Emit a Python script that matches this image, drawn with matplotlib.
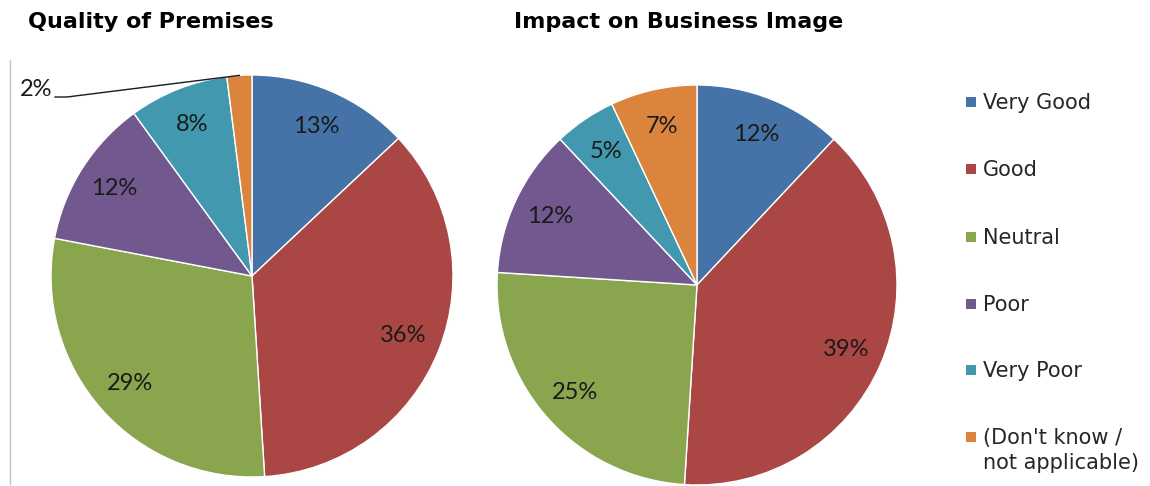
import numpy as np
import matplotlib
matplotlib.use("Agg")
import matplotlib.pyplot as plt

categories = ["Very Good", "Good", "Neutral", "Poor", "Very Poor",
              "(Don't know /\nnot applicable)"]
premises_values = [13, 36, 29, 12, 8, 2]
image_values = [12, 39, 25, 12, 5, 7]
colors = ["#4572A7", "#AA4643", "#89A54E", "#71588F", "#4198AF", "#DB843D"]

W, H = 1150, 486
fig = plt.figure(figsize=(W / 100, H / 100), dpi=100)
fig.patch.set_facecolor("white")


def pie_axes(cx, cy, r):
    """Axes in pixel terms: pie centred at (cx, cy) from the top-left, radius r."""
    ax = fig.add_axes([(cx - r) / W, (H - cy - r) / H, 2 * r / W, 2 * r / H])
    ax.set_xlim(-1, 1)
    ax.set_ylim(-1, 1)
    ax.set_aspect("equal")
    ax.axis("off")
    return ax


label_font = dict(family="Lato", fontsize=17, color="#1a1a1a")


def draw_pie(ax, values, outside=()):
    wedges, _ = ax.pie(values, colors=colors, startangle=90, counterclock=False,
                       radius=1.0, center=(0, 0), frame=False,
                       wedgeprops=dict(edgecolor="white", linewidth=1.0))
    ax.set_xlim(-1, 1)
    ax.set_ylim(-1, 1)
    for i, (w, v) in enumerate(zip(wedges, values)):
        mid = np.deg2rad((w.theta1 + w.theta2) / 2)
        if i in outside:
            continue
        ax.text(0.81 * np.cos(mid), 0.81 * np.sin(mid), f"{v}%",
                ha="center", va="center", **label_font)
    return wedges


ax1 = pie_axes(252, 276, 201)
w1 = draw_pie(ax1, premises_values, outside=(5,))
ax2 = pie_axes(697, 285, 200)
draw_pie(ax2, image_values)

# Leader line and label for the small slice on the left pie
w = w1[5]
mid = np.deg2rad((w.theta1 + w.theta2) / 2)
ex, ey = np.cos(mid), np.sin(mid)
tip_x, tip_y = 252 + 201 * ex, 276 - 201 * ey


def to_fig(x, y):
    return x / W, 1 - y / H


xs = [55, 67, tip_x]
ys = [97, 97, tip_y]
fig.add_artist(plt.Line2D([x / W for x in xs], [1 - y / H for y in ys],
                          color="#1a1a1a", linewidth=1.0))
fig.text(*to_fig(52, 89), f"{premises_values[5]}%", ha="right", va="center",
         **label_font)

# Thin rule at the left edge
fig.add_artist(plt.Line2D([9.5 / W, 9.5 / W], [1 - 60 / H, 1 - 484 / H],
                          color="#c0c0c0", linewidth=1.0))

# Titles
title_font = dict(family="DejaVu Sans", fontweight="bold", fontsize=16,
                  color="black", ha="center", va="center")
fig.text(*to_fig(151, 22), "Quality of Premises", **title_font)
fig.text(*to_fig(679, 22), "Impact on Business Image", **title_font)

# Legend
legend_y = [102, 169, 237, 304, 370, 437]
for cat, col, y in zip(categories, colors, legend_y):
    fig.patches.append(plt.Rectangle((966 / W, 1 - (y + 5) / H), 10 / W, 10 / H,
                                     transform=fig.transFigure, facecolor=col,
                                     edgecolor="none"))
    fig.text(*to_fig(983, y - 9), cat, ha="left", va="top", family="DejaVu Sans",
             fontsize=15, color="#262626", linespacing=1.3)

fig.savefig("out.png", dpi=100, facecolor="white")
